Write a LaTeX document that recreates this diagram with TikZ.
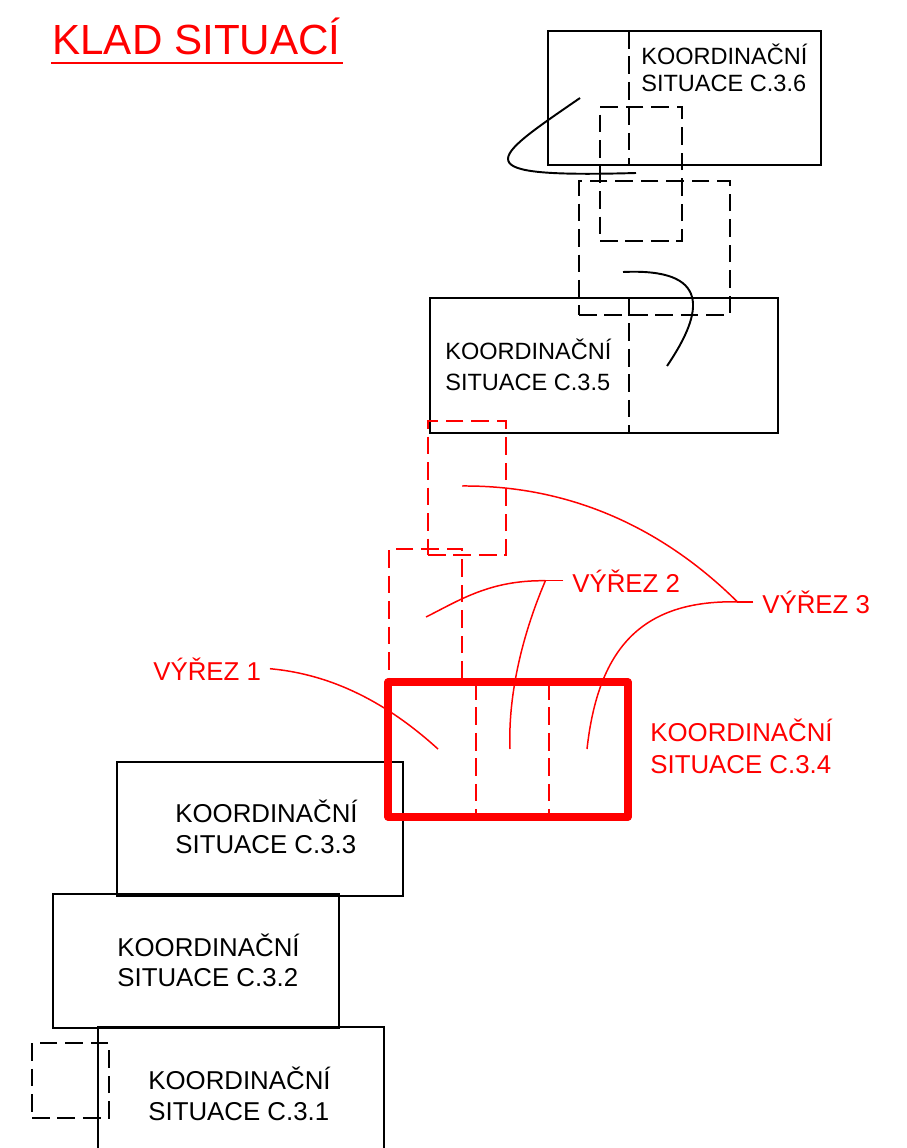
\documentclass[tikz,border=0pt]{standalone}
\usepackage{fontspec}
\setmainfont{Liberation Sans}
\usepackage{xcolor}
\definecolor{cutRed}{HTML}{FF0000}
\usepackage{tikz}
\usetikzlibrary{fit, calc}

\begin{document}
\begin{tikzpicture}[x=0.02cm, y=-0.02cm,
    sheet/.style={draw=black, line width=1.1pt, inner sep=0pt},
    cutbox/.style={draw=black, line width=1.1pt, dash pattern=on 10pt off 4.5pt, inner sep=0pt},
    redcut/.style={draw=cutRed, line width=0.9pt, dash pattern=on 10pt off 4.5pt, inner sep=0pt},
    divider/.style={black, line width=1.1pt, dash pattern=on 10pt off 4.5pt},
    sheettext/.style={inner sep=0pt, anchor=west, align=left},
    vyrez/.style={inner sep=0pt, inner xsep=4.9pt, anchor=base west, text=cutRed, font=\fontsize{14.7}{18}\selectfont},
    leader/.style={cutRed, line width=0.85pt},
    sketch/.style={black, line width=1.1pt}]
        \clip (0,0) rectangle (906,1148);

        % Title
        \node[anchor=base west, inner sep=0pt, text=cutRed, font=\fontsize{24}{28}\selectfont] (title) at (52,55) {KLAD SITUACÍ};
        \draw[cutRed, line width=0.6pt] ($(title.base west)+(-1,8)$) -- ($(title.base east)+(2,8)$);

        % Coordination sheets
        \node[sheet, fit={(548,31) (821,165)}] (c36) {};
        \node[sheet, fit={(430,298) (778,433)}] (c35) {};
        \node[sheet, fit={(117,762) (403,896)}] (c33) {};
        \node[sheet, fit={(53,894) (339,1028)}] (c32) {};
        \node[sheet, fit={(98,1027) (384,1170)}] (c31) {};
        \draw[divider] (629,31) -- (629,165);
        \draw[divider] (629,298) -- (629,433);

        \node[sheettext, font=\fontsize{13.4}{15.3}\selectfont] (t36) at (641,67.5) {KOORDINAČNÍ\\SITUACE C.3.6};
        \node[sheettext, font=\fontsize{13.4}{17.5}\selectfont] (t35) at (445,365) {KOORDINAČNÍ\\SITUACE C.3.5};
        \node[sheettext, font=\fontsize{14.7}{18}\selectfont] (t33) at (175,827) {KOORDINAČNÍ\\SITUACE C.3.3};
        \node[sheettext, font=\fontsize{14.7}{17}\selectfont] (t32) at (117,960) {KOORDINAČNÍ\\SITUACE C.3.2};
        \node[sheettext, font=\fontsize{14.7}{17.5}\selectfont] (t31) at (148,1094) {KOORDINAČNÍ\\SITUACE C.3.1};

        % Black cut-outs
        \node[cutbox, fit={(600,107) (682,241)}] (dA) {};
        \node[cutbox, fit={(579,181) (730,315)}] (dB) {};
        \node[cutbox, fit={(32,1043) (109,1118)}] (dF) {};
        \coordinate (s1a) at (580,98);
        \coordinate (s1b) at (636,173);
        \coordinate (s2a) at (623,272);
        \coordinate (s2b) at (667,366);
        \draw[sketch] (s1a) .. controls (490,160) and (460,178) .. (s1b);
        \draw[sketch] (s2a) .. controls (710,268) and (705,310) .. (s2b);

        % Red cut-outs
        \node[redcut, fit={(428,421) (506,555)}] (rC) {};
        \node[redcut, fit={(389,549) (462,682)}] (rD) {};
        \node[draw=cutRed, line width=4pt, line join=round, inner sep=0pt, fit={(388,682) (628,817)}] (c34) {};
        \draw[cutRed, line width=0.9pt, dash pattern=on 10pt off 4.5pt] (476,682) -- (476,817);
        \draw[cutRed, line width=0.9pt, dash pattern=on 10pt off 4.5pt] (549,682) -- (549,817);
        \node[sheettext, text=cutRed, font=\fontsize{14.7}{18}\selectfont] (t34) at (650,746.5) {KOORDINAČNÍ\\SITUACE C.3.4};

        % Labels and leaders
        \node[vyrez] (v1) at (144.4,680) {VÝŘEZ 1};
        \node[vyrez] (v2) at (563.4,592) {VÝŘEZ 2};
        \node[vyrez] (v3) at (753.4,613) {VÝŘEZ 3};
        \coordinate (e1) at (438,749);
        \coordinate (e2a) at (426,617);
        \coordinate (e2b) at (510,749);
        \coordinate (e3a) at (462,486);
        \coordinate (e3b) at (587,749);

        \draw[leader] (v1.east) .. controls (340,675) and (395,710) .. (e1);
        \draw[leader] (v2.west) -- ++(-18,0) coordinate (k2);
        \draw[leader] (k2) .. controls (490,580) and (460,600) .. (e2a);
        \draw[leader] (k2) .. controls (520,640) and (508,700) .. (e2b);
        \draw[leader] (v3.west) -- ++(-16,0) coordinate (k3);
        \draw[leader] (k3) .. controls (680,545) and (590,485) .. (e3a);
        \draw[leader] (k3) .. controls (640,600) and (598,650) .. (e3b);
    \end{tikzpicture}
\end{document}
